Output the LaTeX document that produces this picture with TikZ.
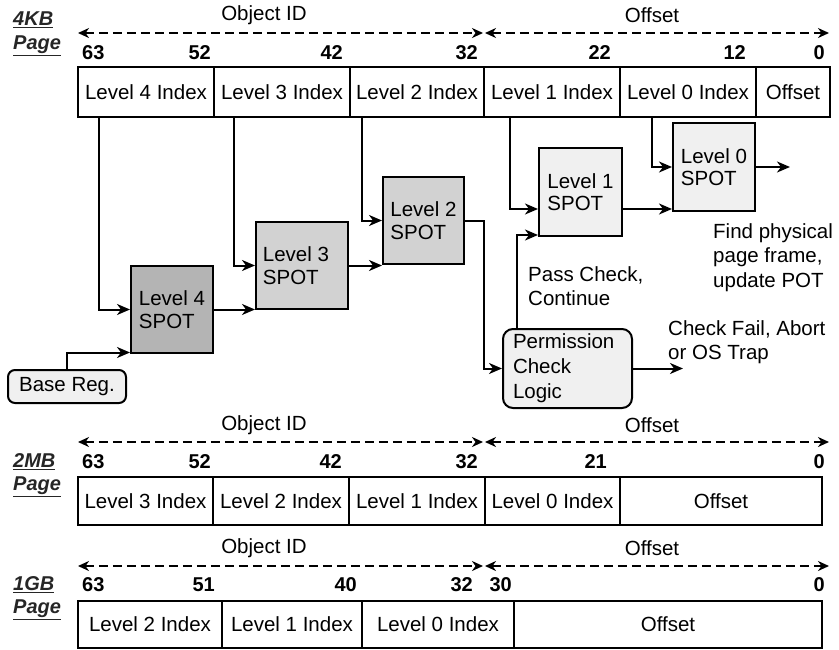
\documentclass[tikz,border=0pt]{standalone}
\usepackage{fontspec}
\setmainfont{Liberation Sans}
\usetikzlibrary{arrows.meta,calc}
\definecolor{dk}{HTML}{B4B4B4}
\definecolor{md}{HTML}{D2D2D2}
\definecolor{lt}{HTML}{F0F0F0}
\begin{document}
\begin{tikzpicture}[x=1pt,y=-1pt,
  every node/.style={font=\fontsize{20.5}{24}\selectfont, inner sep=0pt},
  field/.style={draw, line width=2pt, minimum height=50pt, anchor=north west},
  bitnum/.style={font=\fontsize{20}{24}\selectfont\bfseries},
  pagelbl/.style={font=\fontsize{20}{24}\selectfont\bfseries\itshape, anchor=west, text=black!85},
  spot/.style={draw, line width=2pt, align=left, inner sep=0pt,
    font=\fontsize{20.5}{22.5}\selectfont},
  conn/.style={line width=2pt, -{Stealth[length=13pt,width=11pt,inset=4pt]}},
  dasharrow/.style={line width=1.8pt, dash pattern=on 9pt off 5pt,
    {Stealth[length=11pt,width=10pt,inset=3.5pt]}-{Stealth[length=11pt,width=10pt,inset=3.5pt]}},
  lbl/.style={align=left, anchor=west}]
\useasboundingbox (0,0) rectangle (839,649);

% ---------------- 4KB page ----------------
\node[pagelbl] (kb4) at (13,20) {\underline{4KB}};
\node[pagelbl] (pg4) at (13,46) {\underline{Page}};
\node (oid4) at (264,15) {Object ID};
\node (off4) at (652,15) {Offset};
\coordinate (d4l) at (78,33); \coordinate (d4m) at (483,33); \coordinate (d4n) at (485,33); \coordinate (d4r) at (829,33);
\draw[dasharrow] (d4l) -- (d4m);
\draw[dasharrow] (d4n) -- (d4r);
\node[bitnum, anchor=west] (n4a) at (82,53) {63};
\node[bitnum, anchor=east] (n4b) at (211,53) {52};
\node[bitnum, anchor=east] (n4c) at (343,53) {42};
\node[bitnum, anchor=east] (n4d) at (478,53) {32};
\node[bitnum, anchor=east] (n4e) at (611,53) {22};
\node[bitnum, anchor=east] (n4f) at (746,53) {12};
\node[bitnum, anchor=east] (n4g) at (825,53) {0};
\node[field, minimum width=136pt] (a4) at (77,66) {Level 4 Index};
\node[field, minimum width=136pt] (a3) at (213,66) {Level 3 Index};
\node[field, minimum width=134pt] (a2) at (349,66) {Level 2 Index};
\node[field, minimum width=136pt] (a1) at (483,66) {Level 1 Index};
\node[field, minimum width=136pt] (a0) at (619,66) {Level 0 Index};
\node[field, minimum width=74pt] (aoff) at (755,66) {Offset};

% ---------------- SPOT tables ----------------
\node[spot, fill=dk, minimum width=82pt, minimum height=87pt] (s4) at (172,309.5) {Level 4\\SPOT};
\node[spot, fill=md, minimum width=92pt, minimum height=87pt] (s3) at (302,265.5) {Level 3\hspace*{12pt}\\SPOT};
\node[spot, fill=md, minimum width=81pt, minimum height=87pt] (s2) at (423.5,220.5) {Level 2\\SPOT};
\node[spot, fill=lt, minimum width=83pt, minimum height=88pt] (s1) at (580.5,192) {Level 1\\SPOT};
\node[spot, fill=lt, minimum width=82pt, minimum height=88pt] (s0) at (714,167) {Level 0\\SPOT};
\node[spot, fill=lt, rounded corners=10pt, inner xsep=10pt, minimum width=129pt, minimum height=79pt,
  text width=109pt, font=\fontsize{20.5}{25}\selectfont] (perm) at (567.5,368.5) {Permission\\Check\\Logic};
\node[draw, line width=2pt, fill=lt, rounded corners=7pt, minimum width=118pt, minimum height=33pt] (base) at (67,386.5) {Base Reg.};

% ---------------- connectors ----------------
\draw[conn] ([xshift=22pt]a4.south west) |- (s4.west);
\draw[conn] ([xshift=21pt]a3.south west) |- (s3.west);
\draw[conn] ([xshift=13pt]a2.south west) |- (s2.west);
\draw[conn] ([xshift=27pt]a1.south west) |- ([yshift=-17pt]s1.west);
\draw[conn] ([xshift=33pt]a0.south west) |- (s0.west);
\coordinate (out0) at (790,167);
\draw[conn] (s0.east) -- (out0);
\draw[conn] ([yshift=-17pt]s1.east) -- ([yshift=-17pt]s1.east -| s0.west);
\draw[conn] (s4.east) -- (s4.east -| s3.west);
\draw[conn] (s3.east) -- (s3.east -| s2.west);
\draw[conn] (s2.east) -- ++(19,0) |- (perm.west);
\draw[conn] ([xshift=15pt]perm.north west) |- ([yshift=2pt]s1.south west);
\coordinate (fail) at (683,368.5);
\draw[conn] (perm.east) -- (fail);
\draw[conn] (base.north) |- ([yshift=1.5pt]s4.south west);

% ---------------- labels ----------------
\node[lbl, font=\fontsize{20.5}{24}\selectfont] (pass) at (528,286) {Pass Check,\\Continue};
\node[lbl, font=\fontsize{20.5}{24.5}\selectfont] (find) at (713,257.5) {Find physical\\page frame,\\update POT};
\node[lbl, font=\fontsize{20.5}{24}\selectfont] (chk) at (668,342) {Check Fail, Abort\\or OS Trap};

% ---------------- 2MB page ----------------
\node[pagelbl] (kb2) at (13,462) {\underline{2MB}};
\node[pagelbl] (pg2) at (13,487) {\underline{Page}};
\node (oid2) at (264,425) {Object ID};
\node (off2) at (652,425) {Offset};
\coordinate (d2l) at (78,442); \coordinate (d2m) at (483,442); \coordinate (d2n) at (485,442); \coordinate (d2r) at (829,442);
\draw[dasharrow] (d2l) -- (d2m);
\draw[dasharrow] (d2n) -- (d2r);
\node[bitnum, anchor=west] (n2a) at (82,462) {63};
\node[bitnum, anchor=east] (n2b) at (211,462) {52};
\node[bitnum, anchor=east] (n2c) at (342,462) {42};
\node[bitnum, anchor=east] (n2d) at (478,462) {32};
\node[bitnum, anchor=east] (n2e) at (607,462) {21};
\node[bitnum, anchor=east] (n2f) at (825,462) {0};
\node[field, minimum width=135pt, minimum height=48pt] (b3) at (77,476) {Level 3 Index};
\node[field, minimum width=136pt, minimum height=48pt] (b2) at (212,476) {Level 2 Index};
\node[field, minimum width=136pt, minimum height=48pt] (b1) at (348,476) {Level 1 Index};
\node[field, minimum width=135pt, minimum height=48pt] (b0) at (484,476) {Level 0 Index};
\node[field, minimum width=202pt, minimum height=48pt] (boff) at (619,476) {Offset};

% ---------------- 1GB page ----------------
\node[pagelbl] (kb1) at (13,585) {\underline{1GB}};
\node[pagelbl] (pg1) at (13,610) {\underline{Page}};
\node (oid1) at (264,548) {Object ID};
\node (off1) at (652,548) {Offset};
\coordinate (d1l) at (78,566); \coordinate (d1m) at (483,566); \coordinate (d1n) at (485,566); \coordinate (d1r) at (829,566);
\draw[dasharrow] (d1l) -- (d1m);
\draw[dasharrow] (d1n) -- (d1r);
\node[bitnum, anchor=west] (n1a) at (82,585) {63};
\node[bitnum, anchor=east] (n1b) at (215,585) {51};
\node[bitnum, anchor=east] (n1c) at (357,585) {40};
\node[bitnum, anchor=east] (n1d) at (473,585) {32};
\node[bitnum, anchor=east] (n1e) at (512,585) {30};
\node[bitnum, anchor=east] (n1f) at (825,585) {0};
\node[field, minimum width=144pt, minimum height=47pt] (c2) at (77,600) {Level 2 Index};
\node[field, minimum width=140pt, minimum height=47pt] (c1) at (221,600) {Level 1 Index};
\node[field, minimum width=152pt, minimum height=47pt] (c0) at (361,600) {Level 0 Index};
\node[field, minimum width=308pt, minimum height=47pt] (coff) at (513,600) {Offset};
\end{tikzpicture}
\end{document}
